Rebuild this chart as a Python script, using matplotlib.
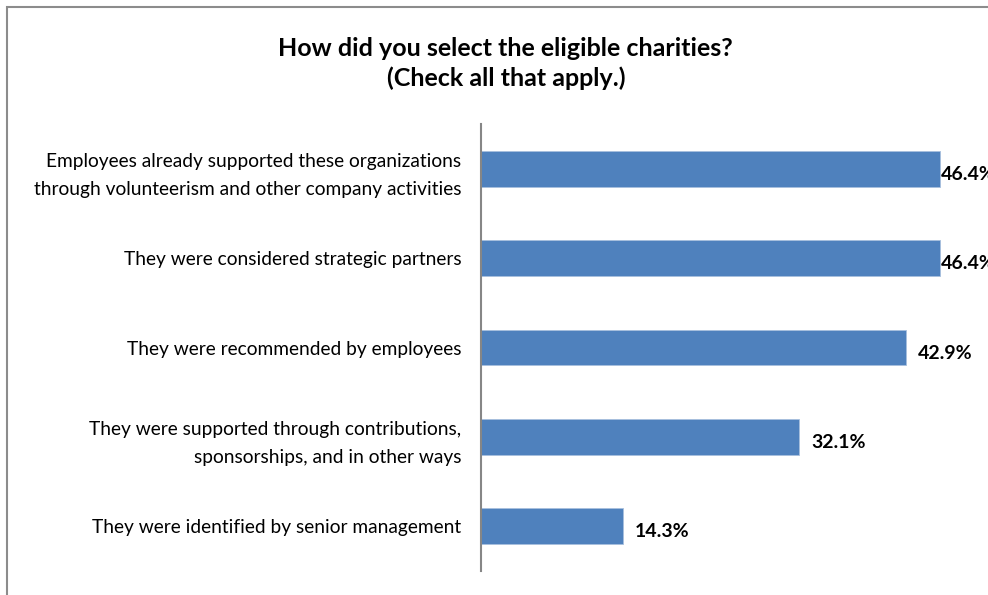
import matplotlib
matplotlib.use('Agg')
import matplotlib.pyplot as plt
from matplotlib.patches import Rectangle

# data, top to bottom as in the chart
categories = [
    'Employees already supported these organizations\nthrough volunteerism and other company activities',
    'They were considered strategic partners',
    'They were recommended by employees',
    'They were supported through contributions,\nsponsorships, and in other ways',
    'They were identified by senior management',
]
values = [46.4, 46.4, 42.9, 32.1, 14.3]
value_labels = ['46.4%', '46.4%', '42.9%', '32.1%', '14.3%']
title = 'How did you select the eligible charities?\n(Check all that apply.)'

plt.rcParams['font.family'] = ['Lato', 'DejaVu Sans']

bar_color = '#4F81BD'

fig = plt.figure(figsize=(9.88, 5.95), dpi=100)
# outer chart border (right/bottom edges fall outside the image)
fig.patches.append(Rectangle((7 / 988, -0.1), 1.2, 1 - 7 / 595 + 0.1,
                             transform=fig.transFigure, fill=False,
                             edgecolor='#8c8c8c', linewidth=1.5))

ax = fig.add_axes([481 / 988, 24 / 595, 495 / 988, 447 / 595])
ypos = list(range(len(categories)))
ax.barh(ypos, values, height=0.4, color=bar_color, edgecolor='#a8c0de', linewidth=0.6)
ax.set_xlim(0, 50)
ax.set_ylim(len(categories) - 0.5, -0.5)
ax.set_yticks(ypos)
ax.set_yticklabels(categories, fontsize=13.8, linespacing=1.75)
ax.tick_params(axis='y', length=0, pad=14)
ax.set_xticks([])
for s in ['top', 'right', 'bottom']:
    ax.spines[s].set_visible(False)
ax.spines['left'].set_color('#868686')
ax.spines['left'].set_linewidth(1.5)

vmax = max(values)
for y, v, lab in zip(ypos, values, value_labels):
    pad = 0 if v == vmax else 9
    ax.annotate(lab, (v, y), xytext=(pad, -4), textcoords='offset points',
                va='center', ha='left', fontsize=14, fontweight='bold',
                annotation_clip=False)

fig.text(0.512, 0.893, title, ha='center', va='center', fontsize=18,
         fontweight='bold', linespacing=1.35)

fig.savefig('out.png', dpi=100)
